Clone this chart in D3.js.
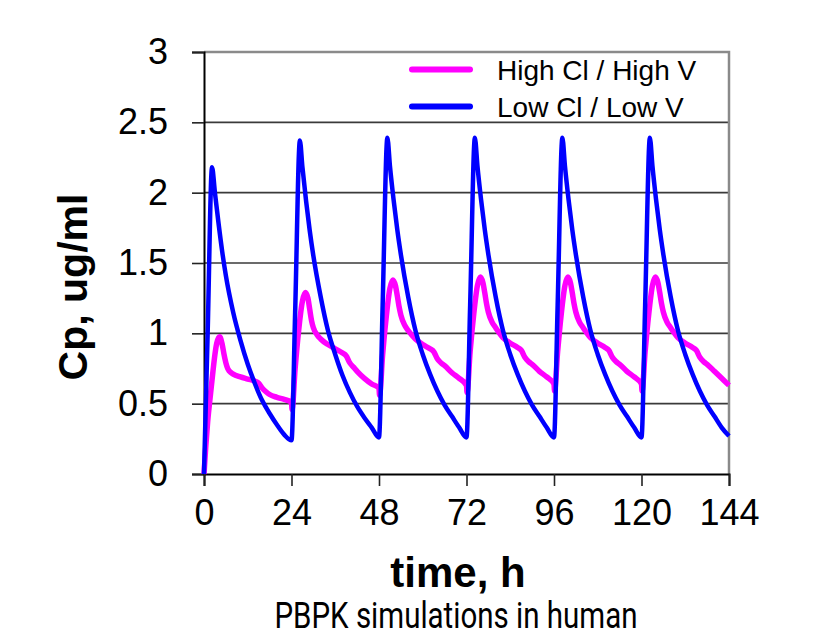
<!DOCTYPE html>
<html>
<head>
<meta charset="utf-8">
<script src="https://cdn.jsdelivr.net/npm/d3@7"></script>
<style>
  body { margin: 0; background: #fff; }
  text { font-family: "Liberation Sans", Arial, sans-serif; fill: #000; }
</style>
</head>
<body>
<div id="chart"></div>
<script>
// tick labels
var xTicks = [0, 24, 48, 72, 96, 120, 144];
var yTicks = [0, 0.5, 1, 1.5, 2, 2.5, 3];

// Low Cl / Low V (blue) - time (h) and Cp (ug/ml)
var lowTime = [
  0, 1, 2.2, 3, 4, 5, 6, 8, 10, 12, 14, 16, 18, 20, 22,
  24, 25, 26.3, 27, 28, 29, 30, 32, 34, 36, 38, 40, 42, 44, 46,
  48, 49, 50.3, 51, 52, 53, 54, 56, 58, 60, 62, 64, 66, 68, 70,
  72, 73, 74.3, 75, 76, 77, 78, 80, 82, 84, 86, 88, 90, 92, 94,
  96, 97, 98.3, 99, 100, 101, 102, 104, 106, 108, 110, 112, 114, 116, 118,
  120, 121, 122.3, 123, 124, 125, 126, 128, 130, 132, 134, 136, 138, 140, 142,
  144
];
var lowConc = [
  0, 1.0, 2.18, 2.0, 1.78, 1.58, 1.41, 1.15, 0.95, 0.78, 0.64, 0.52, 0.43, 0.35, 0.28,
  0.24, 1.15, 2.37, 2.18, 1.94, 1.73, 1.55, 1.26, 1.02, 0.85, 0.70, 0.58, 0.48, 0.40, 0.33,
  0.26, 1.2, 2.39, 2.19, 1.95, 1.74, 1.56, 1.26, 1.02, 0.85, 0.71, 0.59, 0.49, 0.41, 0.33,
  0.26, 1.2, 2.39, 2.19, 1.95, 1.74, 1.56, 1.26, 1.02, 0.85, 0.71, 0.59, 0.49, 0.41, 0.33,
  0.26, 1.2, 2.39, 2.19, 1.95, 1.74, 1.56, 1.26, 1.02, 0.85, 0.71, 0.59, 0.49, 0.41, 0.33,
  0.26, 1.2, 2.39, 2.19, 1.95, 1.74, 1.56, 1.26, 1.02, 0.85, 0.71, 0.59, 0.49, 0.41, 0.33,
  0.27
];

// High Cl / High V (magenta)
var highTime = [
  0, 0.5, 1, 1.5, 2, 2.5, 3, 3.5, 4.3, 5, 5.5, 6, 6.5, 7, 8, 10, 12, 14, 15, 16, 17, 18, 20, 22,
  24, 24.15, 25, 26, 27, 27.8, 28.5, 29, 29.5, 30, 31, 32, 34, 36, 38, 39, 40, 41, 42, 44, 46,
  48, 48.15, 49, 50, 51, 51.8, 52.5, 53, 53.5, 54, 55, 56, 58, 60, 62, 63, 64, 65, 66, 68, 70,
  72, 72.15, 73, 74, 75, 75.8, 76.5, 77, 77.5, 78, 79, 80, 82, 84, 86, 87, 88, 89, 90, 92, 94,
  96, 96.15, 97, 98, 99, 99.8, 100.5, 101, 101.5, 102, 103, 104, 106, 108, 110, 111, 112, 113, 114, 116, 118,
  120, 120.15, 121, 122, 123, 123.8, 124.5, 125, 125.5, 126, 127, 128, 130, 132, 134, 135, 136, 137, 138, 140, 142,
  144
];
var highConc = [
  0, 0.2, 0.37, 0.5, 0.62, 0.74, 0.85, 0.93, 0.975, 0.92, 0.85, 0.79, 0.75, 0.73, 0.71, 0.69, 0.675, 0.66, 0.645, 0.61, 0.585, 0.565, 0.545, 0.53,
  0.51, 0.46, 0.75, 1.03, 1.23, 1.29, 1.25, 1.17, 1.09, 1.04, 0.99, 0.96, 0.92, 0.89, 0.86, 0.84, 0.79, 0.76, 0.73, 0.68, 0.64,
  0.61, 0.56, 0.85, 1.12, 1.32, 1.38, 1.34, 1.27, 1.19, 1.13, 1.06, 1.02, 0.96, 0.92, 0.89, 0.87, 0.82, 0.79, 0.77, 0.72, 0.68,
  0.63, 0.58, 0.87, 1.14, 1.34, 1.40, 1.36, 1.29, 1.21, 1.15, 1.08, 1.04, 0.97, 0.93, 0.90, 0.88, 0.83, 0.80, 0.78, 0.73, 0.69,
  0.64, 0.59, 0.87, 1.14, 1.34, 1.40, 1.36, 1.29, 1.21, 1.15, 1.08, 1.04, 0.97, 0.93, 0.90, 0.88, 0.83, 0.80, 0.78, 0.73, 0.69,
  0.64, 0.59, 0.87, 1.14, 1.34, 1.40, 1.36, 1.29, 1.21, 1.15, 1.08, 1.04, 0.97, 0.93, 0.90, 0.88, 0.83, 0.80, 0.78, 0.73, 0.68,
  0.63
];

var seriesNames = ["High Cl / High V", "Low Cl / Low V"];
var seriesColors = ["#ff00ff", "#0000ff"];

var W = 816, H = 641;
var margin = {top: 52, right: 87, bottom: 167, left: 204},
    width = W - margin.left - margin.right,
    height = H - margin.top - margin.bottom;

var svg = d3.select("#chart").append("svg")
    .attr("width", W)
    .attr("height", H);

var g = svg.append("g")
    .attr("transform", "translate(" + margin.left + "," + margin.top + ")");

var x = d3.scaleLinear().domain([0, 144]).range([0, width]);
var y = d3.scaleLinear().domain([0, 3]).range([height, 0]);

// horizontal grid lines
g.selectAll("line.grid")
  .data(yTicks.filter(function(d) { return d > 0 && d < 3; }))
  .enter().append("line")
    .attr("class", "grid")
    .attr("x1", 0).attr("x2", width)
    .attr("y1", function(d) { return y(d); })
    .attr("y2", function(d) { return y(d); })
    .attr("stroke", "#3a3a3a")
    .attr("stroke-width", 1.6);

// top and right frame (grey)
g.append("path")
    .attr("d", "M0," + y(3) + "H" + width + "V" + height)
    .attr("fill", "none")
    .attr("stroke", "#8a8a8a")
    .attr("stroke-width", 2.5);

// axes
var yAxis = g.append("g")
    .call(d3.axisLeft(y).tickValues(yTicks).tickSize(12).tickPadding(24)
      .tickFormat(function(d) { return String(d); }));
var xAxis = g.append("g")
    .attr("transform", "translate(0," + height + ")")
    .call(d3.axisBottom(x).tickValues(xTicks).tickSize(12).tickPadding(8)
      .tickFormat(function(d) { return String(d); }));

[yAxis, xAxis].forEach(function(ax) {
  ax.select(".domain").attr("stroke", "#000").attr("stroke-width", 2);
  ax.selectAll(".tick line").attr("stroke", "#222").attr("stroke-width", 1.6);
  ax.selectAll(".tick text")
    .attr("fill", "#000")
    .style("font-family", '"Liberation Sans", Arial, sans-serif')
    .style("font-size", "36px");
});
xAxis.selectAll(".tick text").attr("dy", "0.85em");

// lines
var line = d3.line()
    .x(function(d) { return x(d[0]); })
    .y(function(d) { return y(d[1]); })
    .curve(d3.curveMonotoneX);

var highData = highTime.map(function(t, i) { return [t, highConc[i]]; });
var lowData = lowTime.map(function(t, i) { return [t, lowConc[i]]; });

g.append("path")
    .datum(highData)
    .attr("d", line)
    .attr("fill", "none")
    .attr("stroke", seriesColors[0])
    .attr("stroke-width", 5.5)
    .attr("stroke-linejoin", "round");

g.append("path")
    .datum(lowData)
    .attr("d", line)
    .attr("fill", "none")
    .attr("stroke", seriesColors[1])
    .attr("stroke-width", 4.5)
    .attr("stroke-linejoin", "round");

// legend
var legend = svg.append("g");
var legendY = [69.5, 106.5];
seriesNames.forEach(function(name, i) {
  legend.append("line")
    .attr("x1", 412).attr("x2", 470)
    .attr("y1", legendY[i]).attr("y2", legendY[i])
    .attr("stroke", seriesColors[i])
    .attr("stroke-width", 6)
    .attr("stroke-linecap", "round");
  legend.append("text")
    .attr("x", 497)
    .attr("y", legendY[i] + 10)
    .style("font-size", "28px")
    .text(name);
});

// axis titles
svg.append("text")
    .attr("transform", "translate(87,287) rotate(-90)")
    .attr("text-anchor", "middle")
    .style("font-size", "41px")
    .style("font-weight", "bold")
    .text("Cp, ug/ml");

svg.append("text")
    .attr("x", 458)
    .attr("y", 587)
    .attr("text-anchor", "middle")
    .style("font-size", "42px")
    .style("font-weight", "bold")
    .text("time, h");

// caption (narrow face in the original, squeezed to its width)
svg.append("text")
    .attr("x", 456)
    .attr("y", 628)
    .attr("text-anchor", "middle")
    .attr("textLength", 363)
    .attr("lengthAdjust", "spacingAndGlyphs")
    .style("font-family", "Roboto, sans-serif")
    .style("font-size", "36px")
    .text("PBPK simulations in human");
</script>
</body>
</html>
